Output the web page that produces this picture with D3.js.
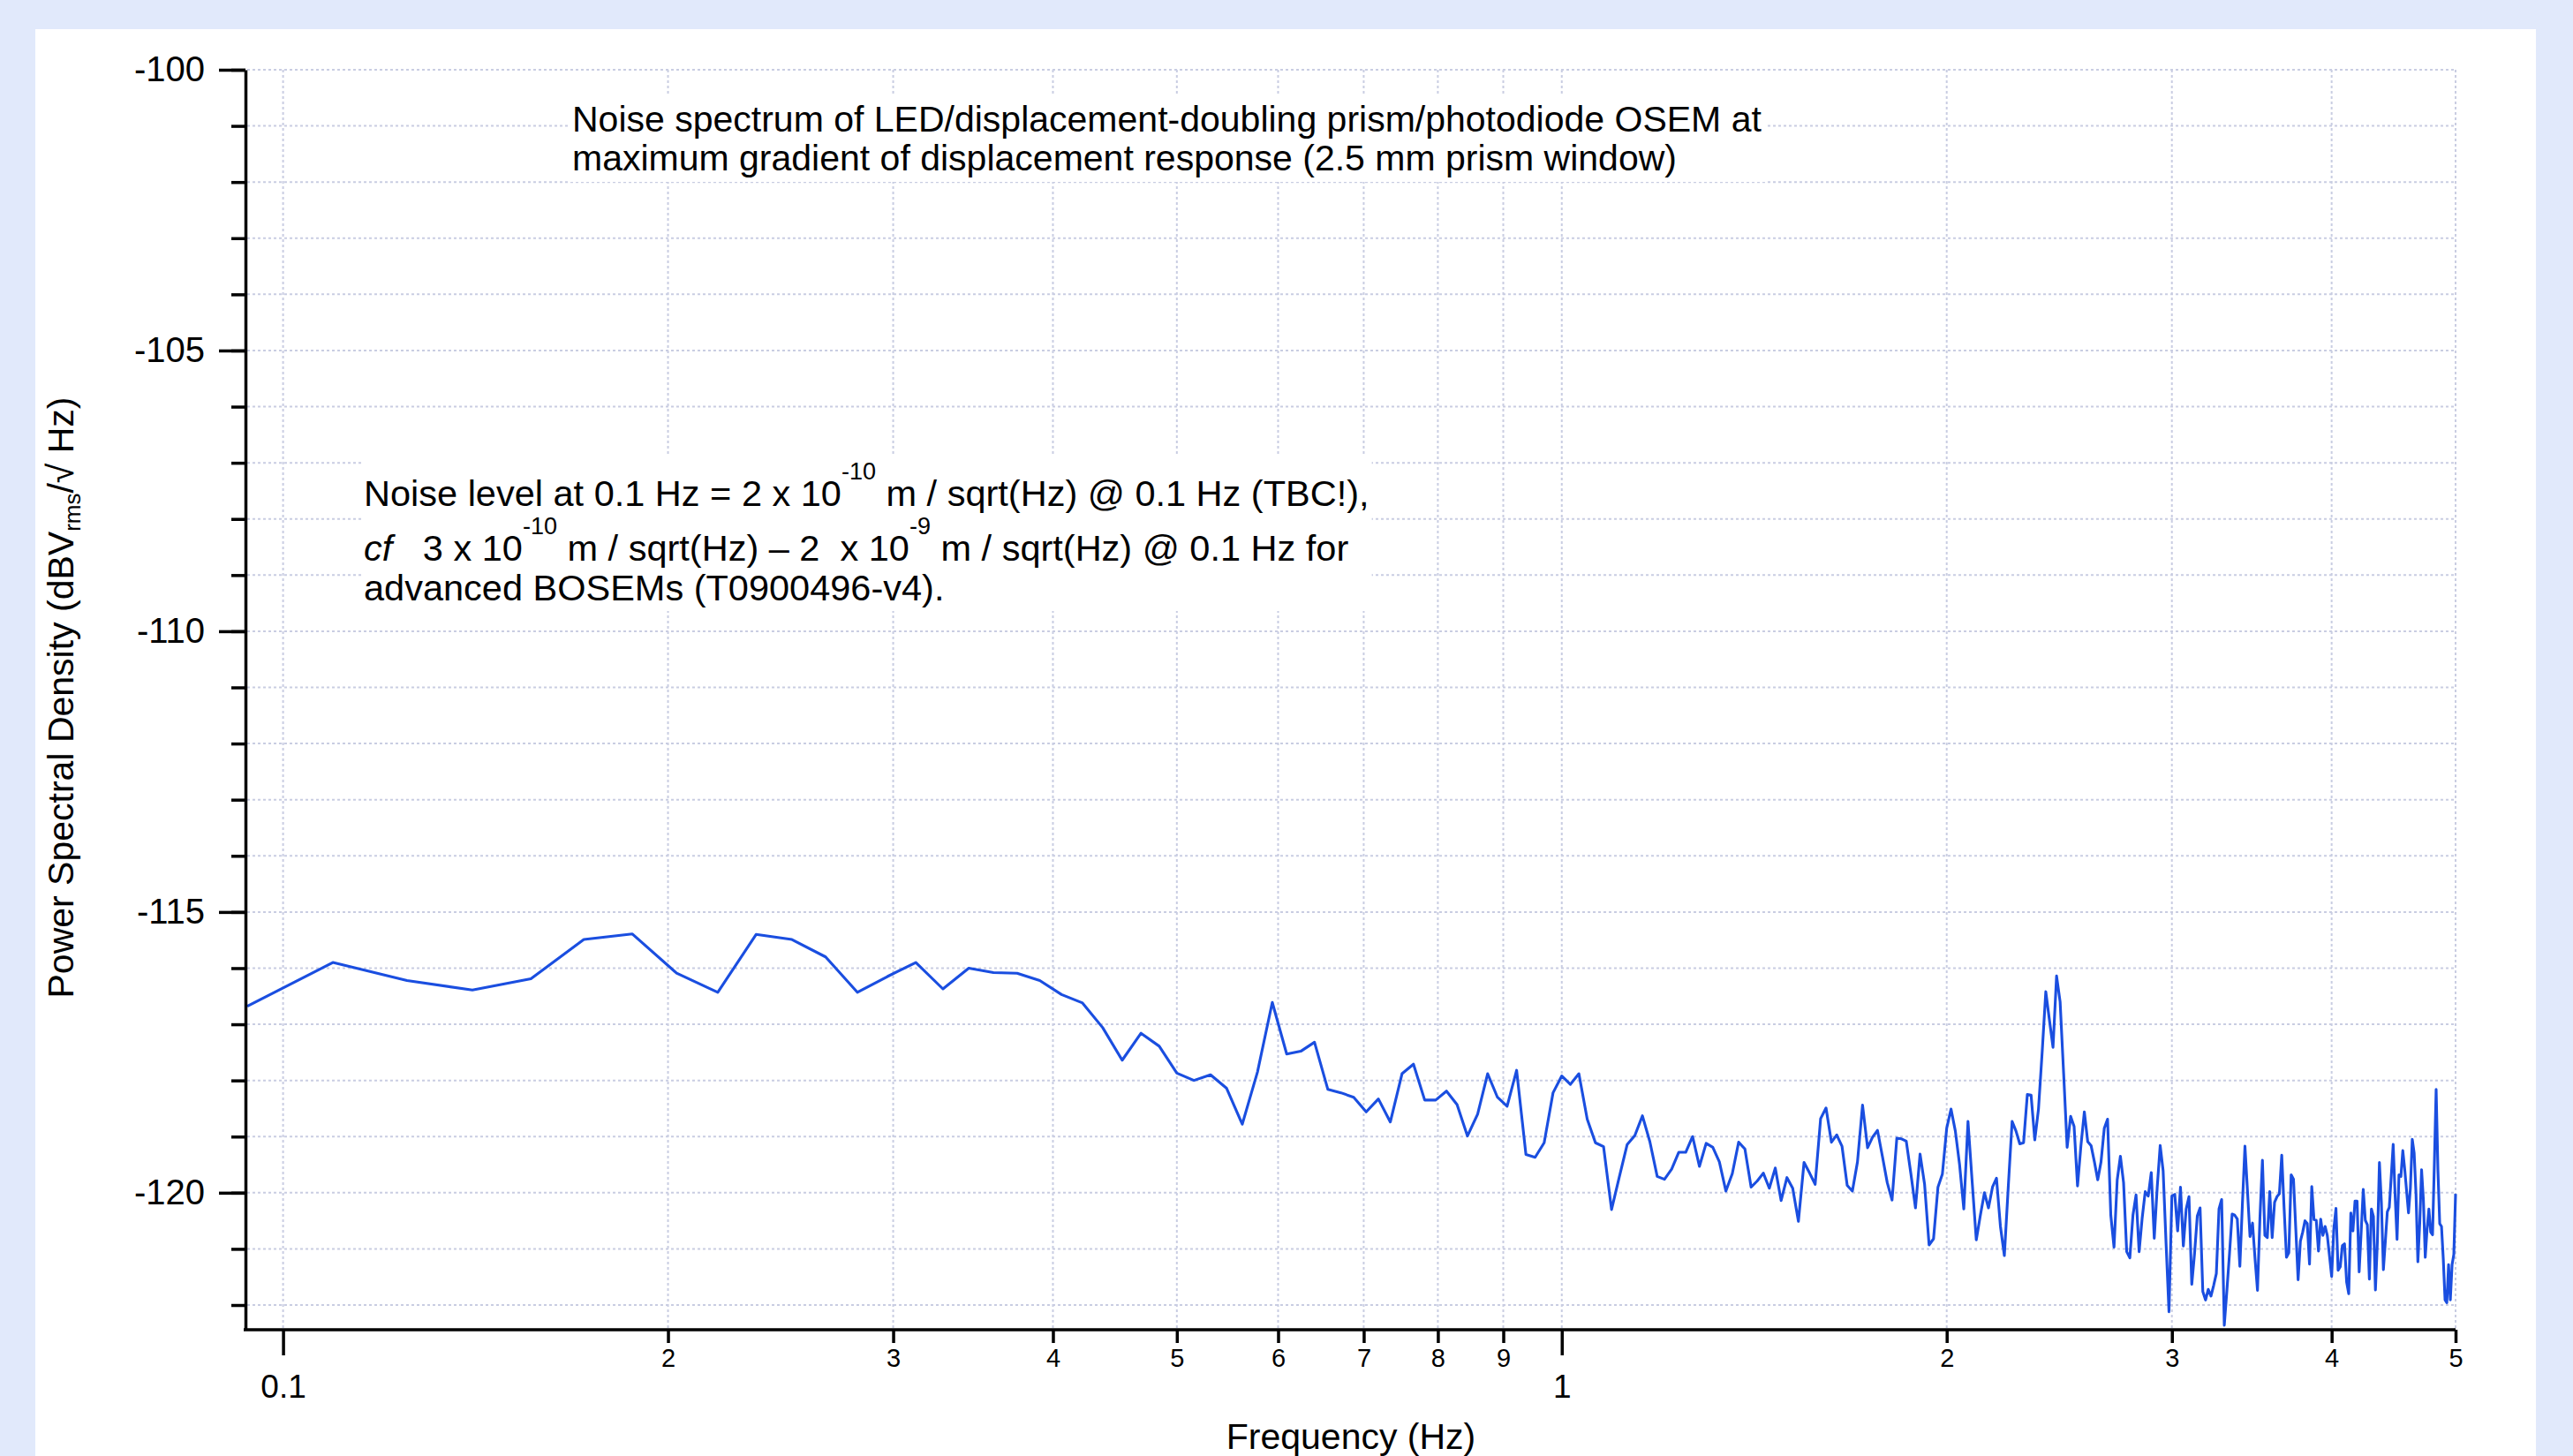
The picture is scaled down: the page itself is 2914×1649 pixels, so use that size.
<!DOCTYPE html>
<html>
<head>
<meta charset="utf-8">
<script src="https://cdn.jsdelivr.net/npm/d3@7.9.0/dist/d3.min.js"></script>
<style>
  html, body { margin: 0; padding: 0; background: #e1e9fb; }
  svg { display: block; font-family: "Liberation Sans", Arial, sans-serif; }
  .pre { white-space: pre; }
</style>
</head>
<body>
<svg id="chart" width="2914" height="1649"></svg>
<script>
// FFT bins are 1/64 Hz wide, the trace starts at bin 6 and ends at 5 Hz
const binWidth = 1 / 64;
const firstBin = 6;

// PSD (dBVrms/sqrt Hz), one value per bin
const psd = [
  -116.68, -115.90, -116.22, -116.39, -116.19, -115.49, -115.39, -116.09, -116.43, -115.40,
  -115.49, -115.80, -116.43, -116.15, -115.90, -116.37, -116.00, -116.08, -116.09, -116.22,
  -116.47, -116.62, -117.06, -117.64, -117.16, -117.39, -117.87, -118.00, -117.90, -118.14,
  -118.78, -117.85, -116.61, -117.53, -117.48, -117.32, -118.16, -118.22, -118.30, -118.56,
  -118.33, -118.74, -117.88, -117.71, -118.35, -118.35, -118.19, -118.43, -118.99, -118.60,
  -117.88, -118.30, -118.46, -117.82, -119.32, -119.37, -119.11, -118.22, -117.92, -118.07,
  -117.88, -118.69, -119.11, -119.18, -120.30, -119.71, -119.14, -118.98, -118.63, -119.09,
  -119.71, -119.76, -119.58, -119.28, -119.28, -119.00, -119.53, -119.12, -119.19, -119.45,
  -119.97, -119.66, -119.10, -119.22, -119.90, -119.79, -119.65, -119.92, -119.56, -120.14,
  -119.73, -119.92, -120.51, -119.46, -119.65, -119.85, -118.68, -118.49, -119.10, -118.97,
  -119.17, -119.87, -119.97, -119.45, -118.44, -119.20, -119.01, -118.89, -119.35, -119.82,
  -120.13, -119.03, -119.04, -119.08, -119.66, -120.27, -119.31, -119.85, -120.93, -120.82,
  -119.90, -119.67, -118.85, -118.51, -118.90, -119.50, -120.29, -118.73, -119.80, -120.84,
  -120.40, -120.00, -120.27, -119.90, -119.74, -120.60, -121.12, -119.90, -118.73, -118.90,
  -119.13, -119.11, -118.25, -118.26, -119.06, -118.51, -117.50, -116.42, -116.92, -117.41,
  -116.14, -116.60, -117.88, -119.19, -118.64, -118.82, -119.88, -119.16, -118.56, -119.09,
  -119.16, -119.45, -119.77, -119.45, -118.85, -118.69, -120.40, -120.97, -119.77, -119.35,
  -119.82, -121.05, -121.16, -120.40, -120.04, -121.05, -120.45, -119.98, -120.06, -119.64,
  -120.81, -119.90, -119.16, -119.61, -120.90, -122.12, -120.06, -120.03, -120.68, -119.90,
  -120.95, -120.29, -120.07, -121.63, -121.08, -120.41, -120.27, -121.76, -121.91, -121.72,
  -121.84, -121.65, -121.44, -120.29, -120.12, -122.36, -121.74, -121.08, -120.38, -120.40,
  -120.47, -121.31, -120.20, -119.17, -119.97, -120.78, -120.54, -121.17, -121.74, -120.44,
  -119.42, -120.76, -120.80, -119.98, -120.80, -120.17, -120.07, -120.02, -119.33, -120.28,
  -121.15, -121.07, -119.68, -119.76, -120.65, -121.55, -120.86, -120.70, -120.50, -120.55,
  -121.27, -119.89, -120.48, -120.49, -121.04, -120.47, -120.76, -120.60, -120.76, -121.12,
  -121.49, -120.65, -120.28, -121.38, -121.32, -120.94, -120.91, -121.59, -121.80, -120.36,
  -120.68, -120.15, -120.15, -121.41, -120.68, -119.94, -120.49, -120.57, -121.54, -120.29,
  -120.42, -121.73, -120.86, -119.46, -120.18, -121.37, -120.86, -120.34, -120.26, -119.71,
  -119.14, -120.05, -120.83, -119.68, -119.71, -119.25, -119.58, -119.97, -120.36, -119.92,
  -119.05, -119.29, -120.02, -121.23, -120.55, -119.59, -120.13, -121.15, -120.65, -120.29,
  -120.70, -120.75, -119.50, -118.16, -119.60, -120.55, -120.60, -121.18, -121.91, -121.96,
  -121.28, -121.91, -121.28, -121.10, -120.02
];

const yMajorTicks = [-120, -115, -110, -105, -100];
const yMinorTicks = [-122, -121, -120, -119, -118, -117, -116, -115, -114, -113, -112, -111,
  -110, -109, -108, -107, -106, -105, -104, -103, -102, -101, -100];
const xMajorTicks = [0.1, 1];
const xMajorLabels = ['0.1', '1'];
const xMinorTicks = [0.2, 0.3, 0.4, 0.5, 0.6, 0.7, 0.8, 0.9, 2, 3, 4, 5];
const xMinorLabels = ['2', '3', '4', '5', '6', '7', '8', '9', '2', '3', '4', '5'];

const titleLines = [
  'Noise spectrum of LED/displacement-doubling prism/photodiode OSEM at',
  'maximum gradient of displacement response (2.5 mm prism window)'
];
const noteLines = [
  [{ t: 'Noise level at 0.1 Hz = 2 x 10' }, { t: '-10', sup: true }, { t: ' m / sqrt(Hz) @ 0.1 Hz (TBC!),' }],
  [{ t: 'cf', it: true }, { t: '   3 x 10' }, { t: '-10', sup: true }, { t: ' m / sqrt(Hz) \u2013 2  x 10' },
    { t: '-9', sup: true }, { t: ' m / sqrt(Hz) @ 0.1 Hz for' }],
  [{ t: 'advanced BOSEMs (T0900496-v4).' }]
];

const freqs = psd.map((_, i) => (firstBin + i) * binWidth);
const data = freqs.map((f, i) => ({ f, v: psd[i] }));

const svg = d3.select('#chart');

svg.append('rect')
  .attr('x', 40).attr('y', 33)
  .attr('width', 2832).attr('height', 1620)
  .attr('fill', '#ffffff');

const x = d3.scaleLog().domain([firstBin * binWidth, 5]).range([280, 2781]);
const y = d3.scaleLinear().domain([-122.44, -100]).range([1506, 79]);

// dotted grid
const grid = svg.append('g')
  .attr('stroke', '#c9cde2')
  .attr('stroke-width', 2)
  .attr('stroke-dasharray', '3,3');

grid.selectAll('line.h')
  .data(yMinorTicks)
  .join('line')
  .attr('class', 'h')
  .attr('x1', x.range()[0]).attr('x2', x.range()[1])
  .attr('y1', (d) => y(d)).attr('y2', (d) => y(d));

grid.selectAll('line.v')
  .data([...xMajorTicks, ...xMinorTicks])
  .join('line')
  .attr('class', 'v')
  .attr('x1', (d) => x(d)).attr('x2', (d) => x(d))
  .attr('y1', y.range()[1]).attr('y2', y.range()[0]);

// annotations on white boxes
function boxed(textSel, pad) {
  const b = textSel.node().getBBox();
  svg.insert('rect', () => textSel.node())
    .attr('x', b.x - pad).attr('y', b.y - pad)
    .attr('width', b.width + 2 * pad).attr('height', b.height + 2 * pad)
    .attr('fill', '#ffffff');
}

const title = svg.append('text').attr('font-size', 41).attr('fill', '#000');
titleLines.forEach((line, i) => {
  title.append('tspan').attr('x', 648).attr('y', 149 + i * 44).text(line);
});
boxed(title, 4);

const noteBaselines = [573, 635, 680];
const note = svg.append('text').attr('class', 'pre').attr('font-size', 41.5).attr('fill', '#000');
noteLines.forEach((segs, i) => {
  let raised = false;
  segs.forEach((s, j) => {
    const ts = note.append('tspan').text(s.t);
    if (j === 0) ts.attr('x', 412).attr('y', noteBaselines[i]);
    if (s.it) ts.attr('font-style', 'italic');
    if (s.sup) {
      ts.attr('font-size', 27).attr('dy', -30);
      raised = true;
    } else if (raised) {
      ts.attr('dy', 30);
      raised = false;
    }
  });
});
boxed(note, 3);

// trace
const line = d3.line()
  .x((d) => x(d.f))
  .y((d) => y(d.v));

svg.append('path')
  .datum(data)
  .attr('fill', 'none')
  .attr('stroke', '#1a4ee0')
  .attr('stroke-width', 3.1)
  .attr('stroke-linejoin', 'round')
  .attr('d', line);

// axes
function styleAxis(g, size) {
  g.attr('font-family', null).attr('font-size', size);
  g.selectAll('line, path').attr('stroke', '#000').attr('stroke-width', 3.5);
  g.selectAll('text').attr('fill', '#000');
}

svg.append('g')
  .attr('transform', 'translate(278,0)')
  .call(d3.axisLeft(y).tickValues(yMinorTicks).tickSize(16).tickFormat(''))
  .call((g) => g.select('.domain').remove())
  .call((g) => styleAxis(g, 40));

svg.append('g')
  .attr('transform', 'translate(278,0)')
  .call(d3.axisLeft(y).tickValues(yMajorTicks).tickSize(30).tickSizeOuter(0).tickPadding(16)
    .tickFormat((d) => String(d)))
  .call((g) => styleAxis(g, 40));

svg.append('g')
  .attr('transform', 'translate(0,1506)')
  .call(d3.axisBottom(x).tickValues(xMinorTicks).tickSize(15).tickPadding(6)
    .tickFormat((d, i) => xMinorLabels[i]))
  .call((g) => g.select('.domain').remove())
  .call((g) => styleAxis(g, 29));

svg.append('g')
  .attr('transform', 'translate(0,1506)')
  .call(d3.axisBottom(x).tickValues(xMajorTicks).tickSize(29).tickSizeOuter(0).tickPadding(22)
    .tickFormat((d, i) => xMajorLabels[i]))
  .call((g) => g.select('.domain').attr('d', `M276,0H${x.range()[1]}`))
  .call((g) => styleAxis(g, 37));

// axis titles
svg.append('text')
  .attr('x', 1530).attr('y', 1641)
  .attr('text-anchor', 'middle')
  .attr('font-size', 41)
  .text('Frequency (Hz)');

const yTitle = svg.append('text')
  .attr('transform', 'translate(83,790) rotate(-90)')
  .attr('text-anchor', 'middle')
  .attr('font-size', 41);
yTitle.append('tspan').text('Power Spectral Density (dBV');
yTitle.append('tspan').attr('font-size', 26).attr('dy', 8).text('rms');
yTitle.append('tspan').attr('dy', -8).text('/\u221A Hz)');
</script>
</body>
</html>
